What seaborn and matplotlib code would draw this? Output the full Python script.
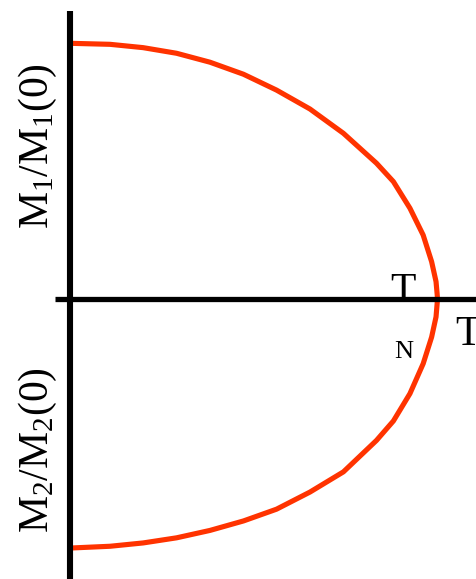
import matplotlib
matplotlib.use("Agg")
import matplotlib.pyplot as plt
import seaborn as sns
import pandas as pd

sns.set_theme(style="white")
plt.rcParams["font.family"] = ["Liberation Serif", "DejaVu Serif"]
plt.rcParams["mathtext.fontset"] = "custom"
plt.rcParams["mathtext.rm"] = "Liberation Serif"
plt.rcParams["mathtext.it"] = "Liberation Serif:italic"
plt.rcParams["text.color"] = "black"

# Reduced temperature T/T_N for the upper branch and its order parameter M1/M1(0)
t_upper = [0.0, 0.109, 0.199, 0.290, 0.381, 0.472, 0.562, 0.653, 0.744, 0.834,
           0.880, 0.925, 0.961, 0.984, 0.996, 0.999, 1.0]
m1_upper = [1.0, 0.996, 0.983, 0.961, 0.926, 0.879, 0.817, 0.743, 0.648, 0.531,
            0.459, 0.355, 0.250, 0.146, 0.068, 0.020, 0.0]

# Lower branch: M2/M2(0), drawn below the temperature axis
t_lower = [1.0, 0.999, 0.996, 0.984, 0.961, 0.925, 0.880, 0.834, 0.744, 0.653,
           0.562, 0.472, 0.381, 0.290, 0.199, 0.109, 0.0]
m2_lower = [0.0, 0.018, 0.070, 0.149, 0.253, 0.370, 0.477, 0.553, 0.676, 0.755,
            0.822, 0.868, 0.905, 0.934, 0.954, 0.967, 0.974]

W, H = 476, 579
fig = plt.figure(figsize=(W / 100, H / 100), dpi=100)
ax = fig.add_axes([0, 0, 1, 1])

# Pixel geometry of the drawing: origin and scale of the axes
x0_px, xn_px = 70.0, 437.5
y0_px, ytop_px = 299.0, 43.3
sx = xn_px - x0_px
sy = y0_px - ytop_px

ax.set_xlim(-x0_px / sx, (W - x0_px) / sx)
ax.set_ylim(-(H - y0_px) / sy, y0_px / sy)
ax.axis("off")

red = "#ff3300"
upper = pd.DataFrame({"t": t_upper, "m": m1_upper})
lower = pd.DataFrame({"t": t_lower, "m": [-v for v in m2_lower]})
sns.lineplot(data=upper, x="t", y="m", sort=False, color=red, lw=3.7, ax=ax,
             solid_capstyle="butt", solid_joinstyle="round")
sns.lineplot(data=lower, x="t", y="m", sort=False, color=red, lw=3.7, ax=ax,
             solid_capstyle="butt", solid_joinstyle="round")

# Axes drawn as heavy black lines
ax.plot([0, 0], [(y0_px - 11) / sy, -(H - y0_px) / sy], color="black", lw=4.4,
        solid_capstyle="butt", zorder=3)
ax.plot([-(x0_px - 55) / sx, (W - x0_px) / sx], [0, 0], color="black", lw=3.8,
        solid_capstyle="butt", zorder=3)
ax.set_xlabel("")
ax.set_ylabel("")


def fx(px):
    return px / W


def fy(py):
    return 1 - py / H


fig.text(fx(38), fy(146), r"$\mathrm{M_1/M_1(0)}$", rotation=90, fontsize=30,
         ha="center", va="center", color="black")
fig.text(fx(38), fy(450), r"$\mathrm{M_2/M_2(0)}$", rotation=90, fontsize=30,
         ha="center", va="center", color="black")
fig.text(fx(403), fy(302), "T", fontsize=30, ha="center", va="baseline", color="black")
fig.text(fx(404), fy(358), "N", fontsize=19, ha="center", va="baseline", color="black")
fig.text(fx(455), fy(345), "T", fontsize=30, ha="left", va="baseline", color="black")

fig.savefig("out.png", dpi=100, facecolor="white")
